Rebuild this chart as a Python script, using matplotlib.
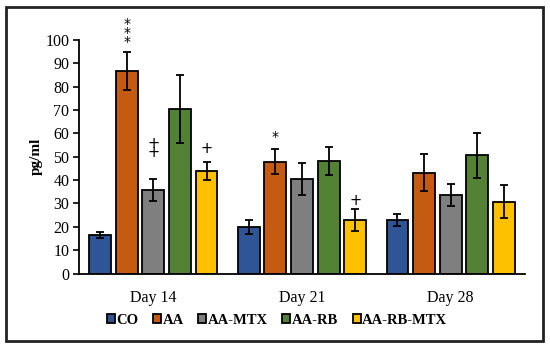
import matplotlib
matplotlib.use("Agg")
import matplotlib.pyplot as plt
from matplotlib.patches import Rectangle
import numpy as np

days = ["Day 14", "Day 21", "Day 28"]
groups = ["CO", "AA", "AA-MTX", "AA-RB", "AA-RB-MTX"]
colors = ["#2F5597", "#C55A11", "#7F7F7F", "#548235", "#FFC000"]

co = [16.5, 19.9, 22.8]
aa = [86.6, 47.9, 43.2]
aa_mtx = [35.7, 40.5, 33.6]
aa_rb = [70.5, 48.2, 50.6]
aa_rb_mtx = [43.8, 23.0, 30.8]

co_err = [1.4, 2.8, 2.6]
aa_err = [8.1, 5.5, 8.0]
aa_mtx_err = [4.6, 6.8, 4.7]
aa_rb_err = [14.7, 6.0, 9.6]
aa_rb_mtx_err = [3.8, 4.7, 7.2]

values = [co, aa, aa_mtx, aa_rb, aa_rb_mtx]
errors = [co_err, aa_err, aa_mtx_err, aa_rb_err, aa_rb_mtx_err]

# annotations: (group index, day index, text, y)
annotations = [(1, 0, "*\n*\n*", 96.0), (2, 0, "+\n+", 48.5), (4, 0, "+", 50.5),
               (1, 1, "*", 55.5), (4, 1, "+", 28.0)]

plt.rcParams['font.family'] = ['Liberation Serif', 'DejaVu Serif']

fig = plt.figure(figsize=(5.5, 3.48), dpi=100)
ax = fig.add_axes([79/550, 1-273.5/348, (525-79)/550, (273.5-40)/348])

x = np.arange(len(days))
pitch = 0.179
width = 0.147
handles = []
for i, (vals, errs) in enumerate(zip(values, errors)):
    pos = x + (i - 2) * pitch
    b = ax.bar(pos, vals, width, color=colors[i], edgecolor="black", linewidth=1.3,
               label=groups[i], zorder=2)
    ax.errorbar(pos, vals, yerr=errs, fmt="none", ecolor="black", elinewidth=1.3,
                capsize=3.2, capthick=1.3, zorder=3)
    handles.append(b)

for gi, di, txt, yv in annotations:
    if txt.startswith('*'):
        ax.text(x[di] + (gi - 2) * pitch, yv, txt, ha="center", va="bottom",
                fontsize=10, linespacing=0.55, clip_on=False, family=['DejaVu Sans'])
    else:
        ax.text(x[di] + (gi - 2) * pitch, yv, txt, ha="center", va="bottom",
                fontsize=10.5, linespacing=0.55, clip_on=False, family=['DejaVu Sans'])

ax.set_xlim(-0.5, 2.5)
ax.set_ylim(0, 100)
ax.set_yticks(np.arange(0, 101, 10))
ax.set_xticks(x)
ax.set_xticklabels(days, fontsize=11.5)
ax.tick_params(axis="x", length=0, pad=12)
ax.tick_params(axis="y", labelsize=11.5, length=4, width=1.2, direction="out", pad=3)
for s in ["top", "right"]:
    ax.spines[s].set_visible(False)
for s in ["left", "bottom"]:
    ax.spines[s].set_linewidth(1.3)
ax.set_ylabel("pg/ml", fontsize=11, fontweight="bold", labelpad=2)

leg = fig.legend(handles=handles, labels=groups, loc="center", ncol=5,
                 bbox_to_anchor=(277/550, 1-320/348), frameon=False,
                 handlelength=0.55, handleheight=0.55, handletextpad=0.1,
                 columnspacing=1.0, prop={'weight': 'bold', 'size': 10.5})

fig.patches.append(Rectangle((6/550, 7/348), 537/550, 334/348, transform=fig.transFigure,
                             fill=False, edgecolor="#222222", linewidth=2))

fig.savefig("out.png", dpi=100)
